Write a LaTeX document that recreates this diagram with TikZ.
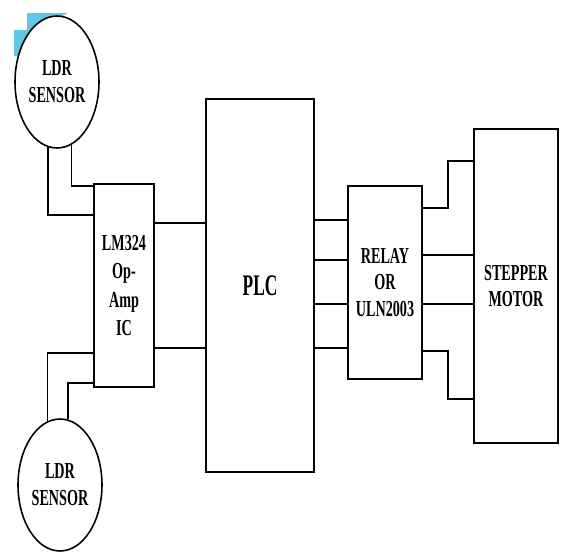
\documentclass[tikz,border=0pt]{standalone}
\usepackage{fontspec}
\setmainfont{Liberation Serif}
\usetikzlibrary{shapes.geometric}
\definecolor{scanblue}{RGB}{95,200,228}
\newcommand{\narrow}[1]{\scalebox{0.62}[1]{#1}}
\begin{document}
\begin{tikzpicture}[x=0.02cm, y=-0.02cm, every path/.style={line width=0.9pt},
	block/.style={draw, fill=white, rectangle, inner sep=0pt, align=center, font=\fontsize{13}{15.5}\selectfont\bfseries},
	sensor/.style={draw, fill=white, ellipse, inner sep=0pt, minimum width=1.68cm, minimum height=2.64cm, align=center, font=\fontsize{13}{15.5}\selectfont\bfseries}]
			\useasboundingbox (0,0) rectangle (569,552);
			\fill[scanblue] (14,56) -- (14,30) -- (27,30) -- (27,13) -- (68,13) -- (50,22) -- (28,40) -- (19,56) -- cycle;
			\node[sensor] (ldrA) at (57,82) {\narrow{LDR}\\\narrow{SENSOR}};
			\node[sensor] (ldrB) at (60,485) {\narrow{LDR}\\\narrow{SENSOR}};
			\node[block, minimum width=1.2cm, minimum height=4.06cm, font=\fontsize{13}{16}\selectfont\bfseries] (opamp) at (124,285.5) {\narrow{LM324}\\\narrow{Op-}\\\narrow{Amp}\\\narrow{IC}};
			\node[block, minimum width=2.16cm, minimum height=7.46cm, font=\fontsize{17}{20}\selectfont\bfseries] (plc) at (260,285.5) {\scalebox{0.58}[1]{PLC}};
			\node[block, minimum width=1.48cm, minimum height=3.86cm, font=\fontsize{13}{15}\selectfont\bfseries] (relay) at (385,282.5) {\narrow{RELAY}\\\narrow{OR}\\\narrow{ULN2003}};
			\node[block, minimum width=1.68cm, minimum height=6.28cm, font=\fontsize{13}{15}\selectfont\bfseries] (motor) at (516,286) {\narrow{STEPPER}\\\narrow{MOTOR}};
			\draw (ldrA.262) |- (0,215 -| opamp.west);
			\draw (ldrA.283) |- (0,186 -| opamp.west);
			\draw (ldrB.101) |- (0,353 -| opamp.west);
			\draw (ldrB.83) |- (0,383 -| opamp.west);
			\draw (0,223 -| opamp.east) -- (0,223 -| plc.west);
			\draw (0,348 -| opamp.east) -- (0,348 -| plc.west);
			\foreach \y in {220,260,304,348}
				\draw (0,\y -| plc.east) -- (0,\y -| relay.west);
			\draw (0,208 -| relay.east) -- (448,208) |- (0,161 -| motor.west);
			\draw (0,255 -| relay.east) -- (0,255 -| motor.west);
			\draw (0,304 -| relay.east) -- (0,304 -| motor.west);
			\draw (0,351 -| relay.east) -- (448,351) |- (0,399 -| motor.west);
		\end{tikzpicture}
\end{document}
